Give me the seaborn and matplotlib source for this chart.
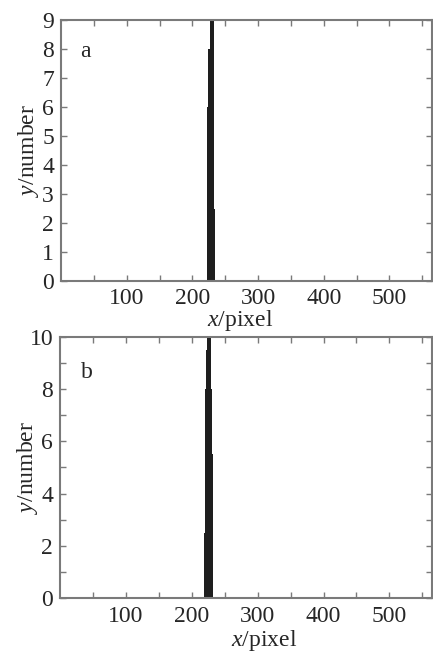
import numpy as np
import pandas as pd
import matplotlib
matplotlib.use("Agg")
import matplotlib.pyplot as plt
import seaborn as sns

# panel a: counts per x pixel
px_a = [222, 223, 224, 225, 226, 227, 228, 229, 230, 231, 232, 233, 234]
num_a = [6, 6, 8, 8, 8, 9, 9, 9, 9, 9, 9, 8, 2.5]

# panel b
px_b = [219, 220, 221, 222, 223, 224, 225, 226, 227, 228, 229, 230, 231, 232]
num_b = [2.5, 5.5, 8, 9.5, 9.5, 10, 10, 10, 10, 10, 9.5, 8, 5.5, 5.5]

panel_labels = ["a", "b"]
ylims = [9, 10]
x_ticks = list(range(50, 551, 50))
x_ticklabels = [str(t) if t % 100 == 0 and t < 550 else "" for t in x_ticks]

sns.set_theme(style="ticks")
plt.rcParams["font.family"] = ["Liberation Serif", "DejaVu Serif"]
plt.rcParams["mathtext.fontset"] = "custom"
plt.rcParams["mathtext.it"] = "Liberation Serif:italic"
plt.rcParams["mathtext.rm"] = "Liberation Serif"

fig = plt.figure(figsize=(4.33, 6.52), dpi=100)
ax_a = fig.add_axes([0.141, 0.569, 0.857, 0.400])
ax_b = fig.add_axes([0.139, 0.083, 0.859, 0.400])

edge = "#7a7a7a"
fs = 17
# where the x labels sit (axes fraction): they are not centred in the source
xlab_pos = {"a": (0.482, -0.105), "b": (0.548, -0.115)}

for ax, px, num, lab, ymax in zip([ax_a, ax_b], [px_a, px_b], [num_a, num_b],
                                  panel_labels, ylims):
    df = pd.DataFrame({"px": px, "num": num})
    sns.barplot(data=df, x="px", y="num", native_scale=True, width=1.0,
                color="#1e1e1e", saturation=1, linewidth=0, errorbar=None, ax=ax)
    ax.set_xlim(0, 565)
    ax.set_ylim(0, ymax)
    ax.set_xticks(x_ticks)
    ax.set_xticklabels(x_ticklabels)
    if ymax == 9:
        ax.set_yticks(range(0, 10))
    else:
        ax.set_yticks(range(0, 11, 2))
        ax.set_yticks(range(1, 11, 2), minor=True)
    ax.tick_params(which="both", direction="in", top=True, right=True,
                   length=4, width=1, color=edge, labelsize=fs)
    ax.tick_params(axis="x", pad=5 if lab == "a" else 6)
    ax.tick_params(axis="y", pad=5)
    for s in ax.spines.values():
        s.set_color(edge)
        s.set_linewidth(1.5)
    ax.set_xlabel(r"$\it{x}$/pixel", fontsize=fs)
    ax.xaxis.set_label_coords(*xlab_pos[lab])
    ax.set_ylabel(r"$\it{y}$/number", fontsize=fs)
    ax.yaxis.set_label_coords(-0.053, 0.5)
    ax.text(0.065 if lab == "a" else 0.073, 0.88 if lab == "a" else 0.866, lab,
            transform=ax.transAxes, fontsize=fs, ha="center", va="center")

fig.savefig("out.png", dpi=100)
